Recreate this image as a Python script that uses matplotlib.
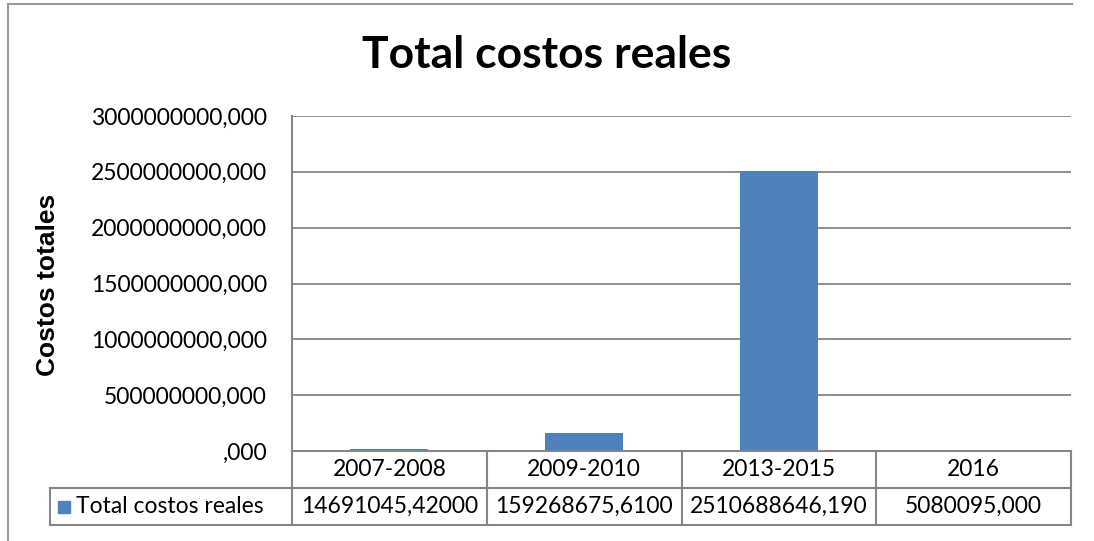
import matplotlib.pyplot as plt
from matplotlib.lines import Line2D
from matplotlib.patches import Rectangle

# data
categories = ['2007-2008', '2009-2010', '2013-2015', '2016']
values = [14691045.42, 159268675.61, 2510688646.19, 5080095.0]
value_labels = ['14691045,42000', '159268675,6100', '2510688646,190', '5080095,000']
series_name = 'Total costos reales'
yticks = [0, 500000000, 1000000000, 1500000000, 2000000000, 2500000000, 3000000000]

bar_color = '#4F81BD'
line_color = '#868686'
W, H = 1094, 541
fs = 16.5

fig = plt.figure(figsize=(W / 100, H / 100), dpi=100)

# plot area in pixels
left, right, top, bottom = 292, 1071, 116, 451
ax = fig.add_axes([left / W, 1 - bottom / H, (right - left) / W, (bottom - top) / H])

x = list(range(len(categories)))
ax.bar(x, values, width=0.4, color=bar_color, zorder=3)
ax.set_xlim(-0.5, len(categories) - 0.5)
ax.set_ylim(0, 3000000000)
ax.set_yticks(yticks)
ax.set_yticklabels([(str(int(v)) if v else '') + ',000' for v in yticks],
                   fontsize=fs, family='Lato')
ax.tick_params(axis='y', length=0, pad=18)
ax.set_xticks([])
ax.yaxis.grid(True, color=line_color, linewidth=1.3, zorder=0)
for s in ['top', 'right', 'bottom']:
    ax.spines[s].set_visible(False)
ax.spines['left'].set_color(line_color)
ax.spines['left'].set_linewidth(1.5)

ax.set_ylabel('Costos totales', fontsize=19, fontweight='bold',
              family='Liberation Sans')
ax.yaxis.set_label_coords(-0.298, 0.495)

fig.text(0.5, 1 - 55 / H, 'Total costos reales', ha='center', va='center',
         fontsize=32, fontweight='bold', family='Lato')

# data table below the axis (in pixel coords of the figure)
def px(xp, yp):
    return xp / W, 1 - yp / H

row1, row2, row3 = 451, 488, 525
legend_left = 50
col_edges = [left + i * (right - left) / len(categories) for i in range(len(categories) + 1)]

def hline(x0, x1, y):
    fig.add_artist(Line2D([x0 / W, x1 / W], [1 - y / H, 1 - y / H],
                          color=line_color, linewidth=1.5))

def vline(xp, y0, y1):
    fig.add_artist(Line2D([xp / W, xp / W], [1 - y0 / H, 1 - y1 / H],
                          color=line_color, linewidth=1.5))

hline(left, right, row1)
hline(legend_left, right, row2)
hline(legend_left, right, row3)
vline(legend_left, row2, row3)
for xe in col_edges:
    vline(xe, row1, row3)

for i, cat in enumerate(categories):
    cx = (col_edges[i] + col_edges[i + 1]) / 2
    fig.text(*px(cx, (row1 + row2) / 2), cat, ha='center', va='center',
             fontsize=fs, family='Lato')
    fig.text(*px(cx, (row2 + row3) / 2), value_labels[i], ha='center', va='center',
             fontsize=fs, family='Lato')

fig.add_artist(Rectangle(px(58, 513), 12 / W, 12 / H, color=bar_color))
fig.text(*px(76, (row2 + row3) / 2), series_name, ha='left', va='center',
         fontsize=fs, family='Lato')

# outer chart frame
fig.add_artist(Line2D([8 / W, 8 / W], [0, 1 - 4 / H], color='#9a9a9a', linewidth=1.5))
fig.add_artist(Line2D([8 / W, 1072 / W], [1 - 4 / H, 1 - 4 / H], color='#9a9a9a', linewidth=1.5))

fig.savefig('out.png', dpi=100)
